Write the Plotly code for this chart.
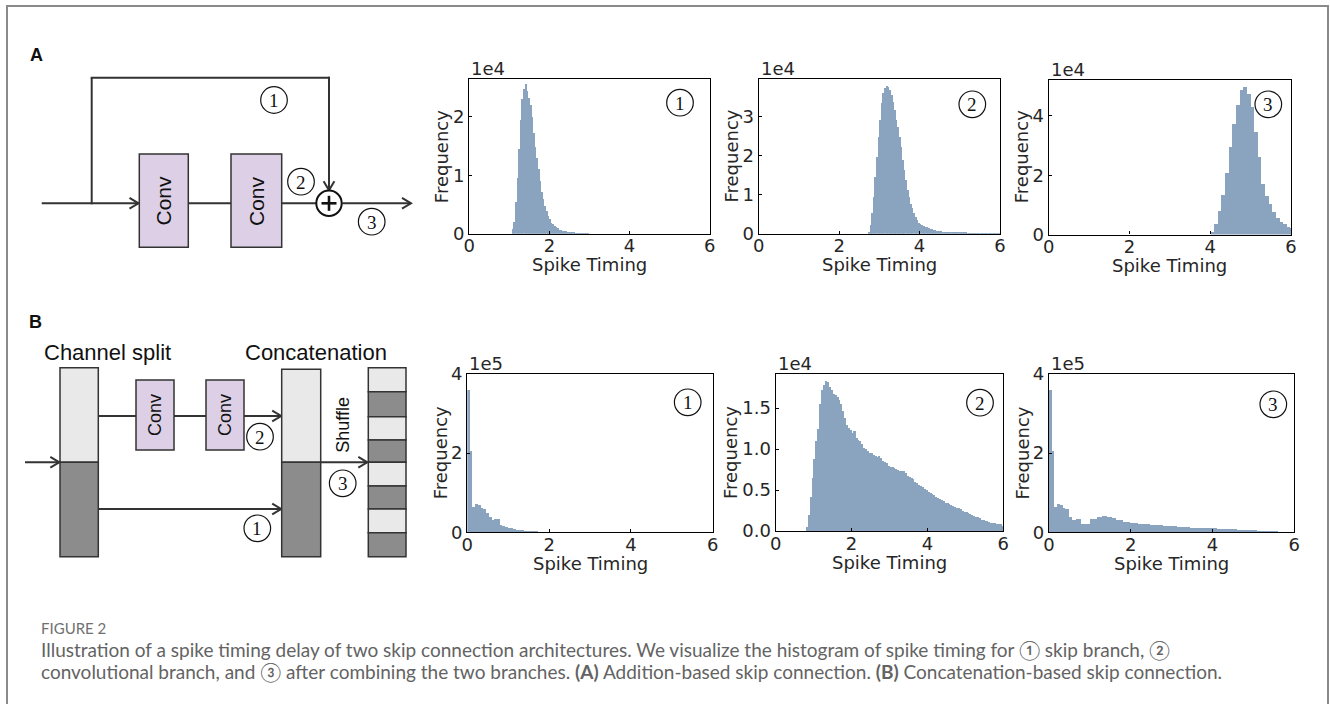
import numpy as np
import plotly.graph_objects as go

W, H = 1330, 704

# ---------------- data ----------------
x_ticks = [0, 2, 4, 6]
x_tick_labels = ["0", "2", "4", "6"]

# Panel A (addition-based skip) - frequency in units of 1e4
a1_start, a1_width = 1.08, 0.04
a1_freq = [0.08, 0.2, 0.55, 0.95, 1.45, 1.95, 2.3, 2.48, 2.56, 2.45, 2.33, 2.2, 2.0, 1.72,
           1.48, 1.3, 1.1, 0.9, 0.72, 0.6, 0.48, 0.39, 0.3, 0.25, 0.19, 0.16, 0.13, 0.11,
           0.09, 0.07, 0.06, 0.05, 0.045, 0.04, 0.03, 0.025, 0.02, 0.018, 0.015, 0.012,
           0.01, 0.008, 0.006, 0.005, 0.004, 0.003, 0.003, 0.002]

a2_start, a2_width = 2.72, 0.04
a2_freq = [0.05, 0.22, 0.52, 0.94, 1.45, 1.96, 2.47, 2.9, 3.33, 3.58, 3.71, 3.77, 3.75, 3.67,
           3.54, 3.37, 3.16, 2.9, 2.73, 2.47, 2.22, 1.88, 1.63, 1.37, 1.11, 0.94, 0.77, 0.65,
           0.52, 0.43, 0.35, 0.28, 0.25, 0.22, 0.2, 0.18, 0.16, 0.15, 0.13, 0.12, 0.1, 0.09,
           0.08, 0.07, 0.065, 0.06, 0.05, 0.045, 0.04, 0.035, 0.03, 0.03, 0.025, 0.025,
           0.024, 0.023, 0.022, 0.021, 0.02, 0.02, 0.019, 0.018, 0.018, 0.017, 0.016, 0.016,
           0.015, 0.015, 0.014, 0.014, 0.013, 0.013, 0.012, 0.012, 0.011, 0.011, 0.01, 0.01,
           0.01, 0.009, 0.009, 0.009]

a3_start, a3_width = 4.0, 0.09
a3_freq = [0.11, 0.37, 0.82, 1.35, 2.08, 2.96, 3.76, 4.4, 4.89, 5.0, 4.75, 4.33, 3.48, 2.64,
           1.72, 1.31, 1.04, 0.79, 0.56, 0.43, 0.36, 0.28, 0.25]

# Panel B (concatenation-based skip)
b1_start, b1_width = 0.0, 1 / 15          # frequency in units of 1e5
b1_freq = [3.6, 2.05, 0.65, 0.71, 0.69, 0.62, 0.59, 0.5, 0.39, 0.33, 0.34, 0.34, 0.2, 0.17,
           0.14, 0.12, 0.11, 0.08, 0.07, 0.06, 0.055, 0.05, 0.035, 0.035, 0.03, 0.02, 0.005]

b2_start, b2_width = 0.8, 0.05            # frequency in units of 1e4
b2_freq = [0.05, 0.2, 0.42, 0.65, 0.88, 1.1, 1.25, 1.55, 1.72, 1.78, 1.83, 1.82, 1.76, 1.72,
           1.68, 1.66, 1.64, 1.6, 1.55, 1.47, 1.38, 1.3, 1.26, 1.24, 1.2, 1.22, 1.14, 1.12,
           1.1, 1.07, 1.02, 1.0, 0.98, 0.96, 0.95, 0.93, 0.92, 0.91, 0.92, 0.9, 0.86, 0.85,
           0.83, 0.8, 0.79, 0.78, 0.77, 0.76, 0.75, 0.73, 0.74, 0.74, 0.71, 0.68, 0.66, 0.65,
           0.64, 0.6, 0.59, 0.57, 0.55, 0.54, 0.52, 0.5, 0.48, 0.47, 0.46, 0.44, 0.42, 0.41,
           0.4, 0.38, 0.37, 0.35, 0.34, 0.33, 0.32, 0.31, 0.3, 0.29, 0.28, 0.27, 0.25, 0.24,
           0.23, 0.22, 0.21, 0.2, 0.19, 0.18, 0.17, 0.16, 0.14, 0.135, 0.13, 0.12, 0.11, 0.105,
           0.1, 0.1, 0.09, 0.09, 0.085, 0.07]

b3_edges = [0, 0.067, 0.133, 0.2, 0.267, 0.333, 0.4, 0.5, 0.567, 0.65, 0.78, 1.0, 1.17, 1.29,
            1.41, 1.53, 1.65, 1.82, 1.98, 2.18, 2.47, 2.8, 3.12, 3.45, 3.77, 4.1, 4.59, 5.08, 5.6]
b3_freq = [3.6, 2.05, 0.65, 0.72, 0.69, 0.62, 0.59, 0.39, 0.33, 0.34, 0.21, 0.35, 0.39, 0.43,
           0.4, 0.37, 0.31, 0.27, 0.24, 0.21, 0.18, 0.16, 0.14, 0.12, 0.11, 0.08, 0.06, 0.035]

panels = [
    dict(start=a1_start, width=a1_width, freq=a1_freq, yr=[0, 2.65], yt=[0, 1, 2],
         ytl=["0", "1", "2"], mult="1e4", num="1"),
    dict(start=a2_start, width=a2_width, freq=a2_freq, yr=[0, 3.95], yt=[0, 1, 2, 3],
         ytl=["0", "1", "2", "3"], mult="1e4", num="2"),
    dict(start=a3_start, width=a3_width, freq=a3_freq, yr=[0, 5.23], yt=[0, 2, 4],
         ytl=["0", "2", "4"], mult="1e4", num="3"),
    dict(start=b1_start, width=b1_width, freq=b1_freq, yr=[0, 4.0], yt=[0, 2, 4],
         ytl=["0", "2", "4"], mult="1e5", num="1"),
    dict(start=b2_start, width=b2_width, freq=b2_freq, yr=[0, 1.92], yt=[0, 0.5, 1.0, 1.5],
         ytl=["0.0", "0.5", "1.0", "1.5"], mult="1e4", num="2"),
    dict(edges=b3_edges, freq=b3_freq, yr=[0, 4.0], yt=[0, 2, 4],
         ytl=["0", "2", "4"], mult="1e5", num="3"),
]

# ---------------- layout geometry (pixels) ----------------
axes_px = [
    (469.3, 709.7, 79.0, 233.7),
    (758.7, 1000.0, 79.0, 233.7),
    (1048.7, 1291.0, 79.5, 234.5),
    (467.3, 712.7, 373.7, 532.3),
    (775.7, 1003.3, 373.7, 531.0),
    (1049.0, 1294.3, 373.7, 532.3),
]
ytitle_off = [27.5, 27.5, 27.5, 27, 45, 27.5]
circ_px = [(680, 102.7), (972.3, 104.3), (1268.3, 104.3),
           (687.7, 402.3), (980, 402.7), (1273.3, 404.3)]


def X(px):
    return px / W


def Y(py):
    return 1 - py / H


BAR = "#8aa4c0"
TXT = "#262626"
HF = "DejaVu Sans"
DF = "Liberation Sans"
INK = "#333333"

fig = go.Figure()
shapes = []
annos = []


def text(x, y, s, size, family=DF, angle=0, color="#111111", xa="center", ya="middle"):
    annos.append(dict(x=X(x), y=Y(y), xref="paper", yref="paper", text=s, showarrow=False,
                      textangle=angle, xanchor=xa, yanchor=ya, borderpad=0,
                      font=dict(family=family, size=size, color=color)))


for i, p in enumerate(panels):
    k = i + 1
    if "edges" in p:
        e = np.array(p["edges"], dtype=float)
    else:
        e = p["start"] + p["width"] * np.arange(len(p["freq"]) + 1)
    centers = (e[:-1] + e[1:]) / 2
    widths = np.diff(e)
    fig.add_trace(go.Bar(x=centers, y=p["freq"], width=widths,
                         marker=dict(color=BAR, line=dict(width=0)),
                         xaxis=f"x{k}", yaxis=f"y{k}", showlegend=False, hoverinfo="skip"))
    l, r, t, b = axes_px[i]
    ax = dict(domain=[X(l), X(r)], range=[0, 6], tickvals=x_ticks, ticktext=x_tick_labels,
              showline=True, mirror=True, linecolor="black", linewidth=1.3,
              ticks="inside", ticklen=3, tickcolor="black", showgrid=False, zeroline=False,
              tickfont=dict(family=HF, size=18, color=TXT), anchor=f"y{k}",
              ticklabelstandoff=-4, automargin=False, fixedrange=True)
    ay = dict(domain=[Y(b), Y(t)], range=p["yr"], tickvals=p["yt"], ticktext=p["ytl"],
              showline=True, mirror=True, linecolor="black", linewidth=1.3,
              ticks="inside", ticklen=3, tickcolor="black", showgrid=False, zeroline=False,
              tickfont=dict(family=HF, size=18, color=TXT), anchor=f"x{k}",
              automargin=False, fixedrange=True)
    fig.layout[f"xaxis{k}"] = ax
    fig.layout[f"yaxis{k}"] = ay
    # axis titles and offset multipliers
    text((l + r) / 2, b + 31, "Spike Timing", 18, family=HF, color=TXT)
    text(l - ytitle_off[i], (t + b) / 2, "Frequency", 18, family=HF, color=TXT, angle=-90)
    text(l + 1, t + 1, p["mult"], 18, family=HF, color=TXT, xa="left", ya="bottom")


def line(x0, y0, x1, y1, w=2, color=INK):
    shapes.append(dict(type="line", xref="paper", yref="paper", x0=X(x0), y0=Y(y0),
                       x1=X(x1), y1=Y(y1), line=dict(color=color, width=w)))


def rect(x0, y0, x1, y1, fill, w=1.5, color=INK):
    shapes.append(dict(type="rect", xref="paper", yref="paper", x0=X(x0), y0=Y(y0),
                       x1=X(x1), y1=Y(y1), fillcolor=fill, line=dict(color=color, width=w)))


def circle(cx, cy, r, w=1.2, fill="white"):
    shapes.append(dict(type="circle", xref="paper", yref="paper", x0=X(cx - r), y0=Y(cy - r),
                       x1=X(cx + r), y1=Y(cy + r), fillcolor=fill,
                       line=dict(color="#111111", width=w)))


def head(tx, ty, d, s=9):
    if d == "r":
        a, b, c, e = tx - s, ty - s * 0.6, tx - s, ty + s * 0.6
    else:
        a, b, c, e = tx - s * 0.6, ty - s, tx + s * 0.6, ty - s
    shapes.append(dict(type="path", xref="paper", yref="paper",
                       path=f"M {X(a)},{Y(b)} L {X(tx)},{Y(ty)} L {X(c)},{Y(e)}",
                       line=dict(color=INK, width=2)))


def arrow_r(x0, y, x1):
    line(x0, y, x1, y)
    head(x1, y, "r")


def circled(cx, cy, n, r=13.3):
    circle(cx, cy, r)
    text(cx, cy + 0.5, n, 19, family="Liberation Serif")


for i, p in enumerate(panels):
    circled(circ_px[i][0], circ_px[i][1], p["num"])

# ---------------- Panel A diagram ----------------
CONV = "#ddd0e6"
text(36, 55, "<b>A</b>", 18)
arrow_r(41.7, 203.3, 138.5)
line(91.7, 204.3, 91.7, 77.7)
line(90.7, 77.7, 330, 77.7)
line(329, 76.7, 329, 190.3)
head(329, 190.3, "d")
rect(139.3, 154, 188.3, 247.3, CONV)
rect(231, 154, 281.7, 247.3, CONV)
line(188.3, 203.3, 231, 203.3)
line(281.7, 203.3, 316.3, 203.3)
circle(329, 203.3, 12.7, w=2)
line(321.5, 203.3, 336.5, 203.3, w=2.6, color="#111111")
line(329, 195.8, 329, 210.8, w=2.6, color="#111111")
arrow_r(341.7, 203.3, 411)
text(163.8, 200.7, "Conv", 21, angle=-90)
text(256.3, 200.7, "Conv", 21, angle=-90)
circled(274, 100, "1")
circled(301, 181.7, "2")
circled(371.7, 221.7, "3")

# ---------------- Panel B diagram ----------------
LIGHT, DARK = "#e9e9e9", "#8c8c8c"
text(35, 322, "<b>B</b>", 18)
text(107.3, 352.7, "Channel split", 22)
text(316, 352.7, "Concatenation", 22)
rect(60, 367.7, 98.3, 462.3, LIGHT)
rect(60, 462.3, 98.3, 556.7, DARK)
arrow_r(25, 462.3, 59.3)
line(98.3, 416, 136, 416)
rect(136, 380, 174, 450, CONV)
line(174, 416, 206, 416)
rect(206, 380, 244, 450, CONV)
arrow_r(244, 416, 281.2)
arrow_r(98.3, 509, 281.2)
text(155, 415, "Conv", 18, angle=-90)
text(225, 415, "Conv", 18, angle=-90)
rect(281.7, 369.3, 320.7, 462.3, LIGHT)
rect(281.7, 462.3, 320.7, 556.7, DARK)
arrow_r(320.7, 462.3, 367.3)
text(342.7, 425, "Shuffle", 18, angle=-90)
seg = [367.7, 391.7, 416.7, 440, 462.3, 486, 509, 532.7, 556.7]
for j in range(8):
    rect(368.3, seg[j], 406, seg[j + 1], LIGHT if j % 2 == 0 else DARK)
circled(260, 436.7, "2")
circled(257.3, 528.3, "1")
circled(342.7, 483.3, "3")

# ---------------- caption & border ----------------
CAP = "Lato"
text(40, 628, "FIGURE 2", 15, family=CAP, color="#707070", xa="left")
text(40, 649, "Illustration of a spike timing delay of two skip connection architectures. "
     "We visualize the histogram of spike timing for ① skip branch, ②", 19, family=CAP,
     color="#636363", xa="left")
text(40, 671, "convolutional branch, and ③ after combining the two branches. "
     "<b>(A)</b> Addition-based skip connection. <b>(B)</b> Concatenation-based skip connection.",
     19, family=CAP, color="#636363", xa="left")

shapes.append(dict(type="rect", xref="paper", yref="paper", x0=X(7), y0=-0.05, x1=X(1328),
                   y1=Y(6), line=dict(color="#8a8a8a", width=2), fillcolor="rgba(0,0,0,0)",
                   layer="below"))

fig.update_layout(width=W, height=H, margin=dict(l=0, r=0, t=0, b=0),
                  paper_bgcolor="white", plot_bgcolor="white", bargap=0,
                  shapes=shapes, annotations=annos, showlegend=False)

fig.write_html("out.html", config={"displayModeBar": False},
               post_script="document.body.style.margin='0px';document.body.style.overflow='hidden';")
